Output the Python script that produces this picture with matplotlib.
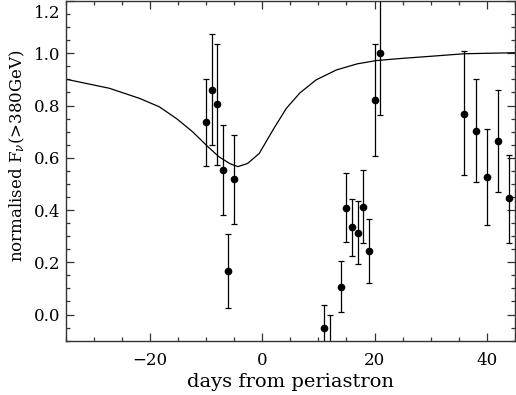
import numpy as np
import matplotlib
matplotlib.use('Agg')
import matplotlib.pyplot as plt
import matplotlib.transforms as mtransforms

# data points
days = [-10, -9, -8, -7, -6, -5, 11, 12, 14, 15, 16, 17, 18, 19, 20, 21, 36, 38, 40, 42, 44]
flux = [0.736, 0.860, 0.804, 0.553, 0.168, 0.517, -0.051, -0.15, 0.107, 0.409, 0.335, 0.314, 0.413, 0.245,
        0.822, 1.000, 0.768, 0.703, 0.526, 0.664, 0.446]
flux_lo = [0.569, 0.649, 0.573, 0.380, 0.025, 0.345, -0.14, -0.30, 0.009, 0.278, 0.225, 0.195, 0.273, 0.122,
           0.608, 0.763, 0.533, 0.507, 0.342, 0.469, 0.273]
flux_hi = [0.902, 1.072, 1.036, 0.727, 0.310, 0.688, 0.035, -0.001, 0.204, 0.542, 0.444, 0.435, 0.553, 0.365,
           1.035, 1.30, 1.008, 0.902, 0.709, 0.860, 0.612]

# model curve
model_x = [-35, -27.2, -21.9, -18.3, -15.3, -12.4, -10.0, -7.7, -5.8, -4.35, -2.6, -0.5, 1.9, 4.3, 6.65,
           9.6, 13.2, 16.8, 20.3, 24, 28, 35.8, 45]
model_y = [0.901, 0.866, 0.828, 0.795, 0.751, 0.700, 0.649, 0.604, 0.578, 0.566, 0.578, 0.617, 0.706, 0.789,
           0.847, 0.898, 0.936, 0.959, 0.972, 0.979, 0.985, 0.998, 1.002]

plt.rcParams['font.family'] = 'DejaVu Serif'
plt.rcParams['mathtext.fontset'] = 'dejavuserif'

fig = plt.figure(figsize=(5.16, 3.95), dpi=100)
ax = fig.add_axes([0.127, 0.1375, 0.871, 0.86])

# smooth the model a bit for drawing
xs = np.linspace(-35, 45, 400)
ax.plot(xs, np.interp(xs, model_x, model_y), color='black', lw=0.9)

days = np.array(days)
flux = np.array(flux)
yerr = [flux - np.array(flux_lo), np.array(flux_hi) - flux]
ax.errorbar(days, flux, yerr=yerr, fmt='o', color='black', ms=4.5, elinewidth=0.9,
            capsize=2.5, capthick=0.9)

ax.set_xlim(-35, 45)
ax.set_ylim(-0.1, 1.2)
ax.set_xticks([-20, 0, 20, 40])
ax.set_xticks(np.arange(-35, 46, 5), minor=True)
ax.set_yticks(np.arange(0, 1.21, 0.2))
ax.set_yticks(np.arange(-0.1, 1.21, 0.05), minor=True)
ax.yaxis.set_major_formatter(matplotlib.ticker.FormatStrFormatter('%.1f'))
ax.tick_params(which='both', direction='in', top=True, right=True, labelsize=12, width=0.9, colors='#333333',
               labelcolor='black')
ax.tick_params(which='major', length=6)
ax.tick_params(which='minor', length=3)
ax.tick_params(axis='x', which='major', pad=8)
for s in ax.spines.values():
    s.set_linewidth(1)
    s.set_color('#333333')

ax.set_xlabel('days from periastron', fontsize=14, labelpad=3)
ax.set_ylabel(r'normalised F$_\nu$(>380GeV)', fontsize=12)
ax.yaxis.set_label_coords(-0.086, 0.544)

# top label sits just inside the figure
fig.canvas.draw()
top = ax.get_yticklabels()[-1]
top.set_verticalalignment('top')
top.set_transform(top.get_transform() + mtransforms.ScaledTranslation(0, -3 / 72, fig.dpi_scale_trans))

plt.savefig('out.png', dpi=100)
